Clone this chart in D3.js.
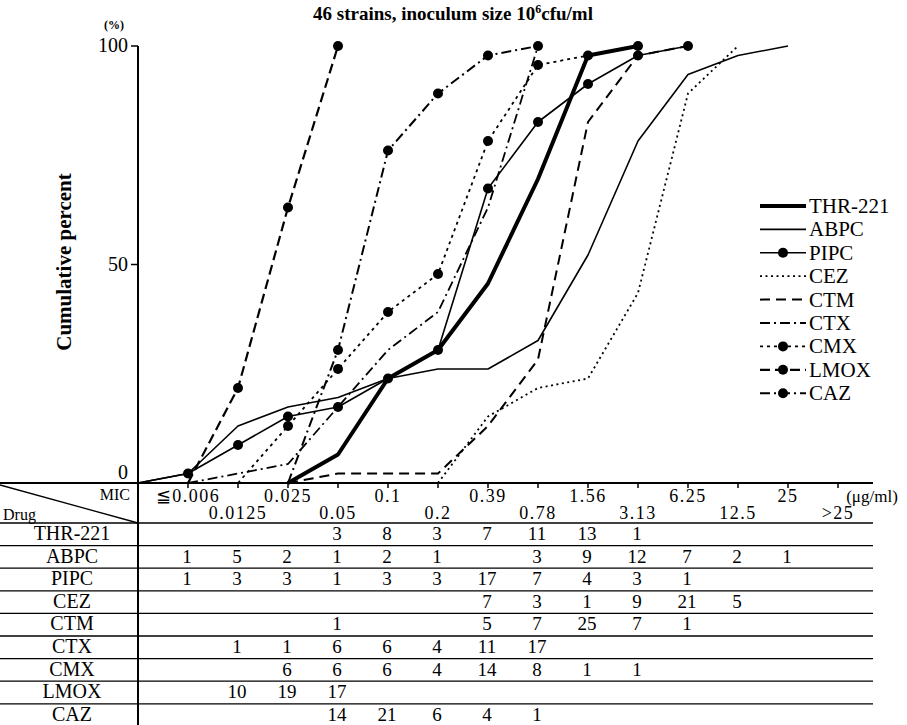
<!DOCTYPE html>
<html>
<head>
<meta charset="utf-8">
<script src="https://cdn.jsdelivr.net/npm/d3@7"></script>
<style>
  body { margin: 0; background: #fff; }
  text { font-family: "Liberation Serif", "DejaVu Serif", serif; fill: #000; }
</style>
</head>
<body>
<div id="chart"></div>
<script>
// MIC categories (ug/ml)
const mics = ["≦0.006", "0.0125", "0.025", "0.05", "0.1", "0.2", "0.39", "0.78", "1.56", "3.13", "6.25", "12.5", "25", ">25"];
const drugs = ["THR-221", "ABPC", "PIPC", "CEZ", "CTM", "CTX", "CMX", "LMOX", "CAZ"];

// number of strains per MIC (blank = null)
const thr221 = [null, null, null, 3, 8, 3, 7, 11, 13, 1, null, null, null, null];
const abpc   = [1, 5, 2, 1, 2, 1, null, 3, 9, 12, 7, 2, 1, null];
const pipc   = [1, 3, 3, 1, 3, 3, 17, 7, 4, 3, 1, null, null, null];
const cez    = [null, null, null, null, null, null, 7, 3, 1, 9, 21, 5, null, null];
const ctm    = [null, null, null, 1, null, null, 5, 7, 25, 7, 1, null, null, null];
const ctx    = [null, 1, 1, 6, 6, 4, 11, 17, null, null, null, null, null, null];
const cmx    = [null, null, 6, 6, 6, 4, 14, 8, 1, 1, null, null, null, null];
const lmox   = [null, 10, 19, 17, null, null, null, null, null, null, null, null, null, null];
const caz    = [null, null, null, 14, 21, 6, 4, 1, null, null, null, null, null, null];

const counts = [thr221, abpc, pipc, cez, ctm, ctx, cmx, lmox, caz];
const yTicks = [0, 50, 100];
const total = 46;

// line styles per drug
const styles = {
  "THR-221": { w: 4,   dash: null,       dot: false },
  "ABPC":    { w: 1.6, dash: null,       dot: false },
  "PIPC":    { w: 1.6, dash: null,       dot: true },
  "CEZ":     { w: 1.8, dash: "2,3.5",    dot: false },
  "CTM":     { w: 2,   dash: "10,6",     dot: false },
  "CTX":     { w: 1.8, dash: "10,4,2,4", dot: false },
  "CMX":     { w: 1.8, dash: "3,4",      dot: true },
  "LMOX":    { w: 2.2, dash: "10,5",     dot: true },
  "CAZ":     { w: 2,   dash: "10,4,2,4", dot: true }
};

const width = 907;
const height = 725;

const svg = d3.select('#chart')
  .append('svg')
  .attr('width', width)
  .attr('height', height);

const x = d3.scaleLinear().domain([-1, 13]).range([138, 838]);
const y = d3.scaleLinear().domain([0, 100]).range([483, 46]);

// cumulative series
const series = drugs.map((name, k) => {
  const c = counts[k];
  const first = c.findIndex(v => v != null && v > 0);
  const pts = [{ i: first - 1, p: 0, start: true }];
  let sum = 0;
  for (let i = first; i < c.length; i++) {
    sum += c[i] || 0;
    pts.push({ i: i, p: sum / total * 100 });
    if (sum >= total) break;
  }
  return { name, pts };
});

// title
const title = svg.append('text')
  .attr('x', 453).attr('y', 20)
  .attr('text-anchor', 'middle')
  .style('font-size', '19px').style('font-weight', 'bold');
title.append('tspan').text('46 strains, inoculum size 10');
title.append('tspan').attr('dy', -7).style('font-size', '12px').text('6');
title.append('tspan').attr('dy', 7).text('cfu/ml');

// y axis
svg.append('line')
  .attr('x1', 138).attr('x2', 138)
  .attr('y1', y(100)).attr('y2', height)
  .attr('stroke', '#000').attr('stroke-width', 2);

svg.selectAll('.ytick')
  .data(yTicks)
  .join('line')
  .attr('x1', 131).attr('x2', 138)
  .attr('y1', d => y(d)).attr('y2', d => y(d))
  .attr('stroke', '#000').attr('stroke-width', 1.5);

svg.selectAll('.ylab')
  .data(yTicks)
  .join('text')
  .attr('x', 128)
  .attr('y', d => d === 0 ? y(d) - 4 : y(d) + 6)
  .attr('text-anchor', 'end')
  .style('font-size', '20px')
  .text(d => d);

svg.append('text')
  .attr('x', 114).attr('y', 29)
  .attr('text-anchor', 'middle')
  .style('font-size', '12px').style('font-weight', 'bold')
  .text('(%)');

svg.append('text')
  .attr('transform', 'translate(71,262) rotate(-90)')
  .attr('text-anchor', 'middle')
  .style('font-size', '21px').style('font-weight', 'bold')
  .text('Cumulative percent');

// x axis / table top
svg.append('line')
  .attr('x1', 0).attr('x2', 873)
  .attr('y1', 483).attr('y2', 483)
  .attr('stroke', '#000').attr('stroke-width', 2);

svg.selectAll('.xtick')
  .data(mics)
  .join('line')
  .attr('x1', (d, i) => x(i)).attr('x2', (d, i) => x(i))
  .attr('y1', 483).attr('y2', 488)
  .attr('stroke', '#000').attr('stroke-width', 1.5);

svg.selectAll('.xlab')
  .data(mics)
  .join('text')
  .attr('x', (d, i) => x(i))
  .attr('y', (d, i) => i % 2 === 0 ? 502 : 519)
  .attr('text-anchor', 'middle')
  .style('font-size', '18px')
  .style('letter-spacing', '1.5px')
  .text(d => d);

svg.append('text')
  .attr('x', 872).attr('y', 502)
  .attr('text-anchor', 'middle')
  .style('font-size', '17px')
  .text('(μg/ml)');

// header cell
svg.append('line')
  .attr('x1', 0).attr('y1', 485).attr('x2', 138).attr('y2', 523)
  .attr('stroke', '#000').attr('stroke-width', 1.3);
svg.append('text')
  .attr('x', 130).attr('y', 500)
  .attr('text-anchor', 'end')
  .style('font-size', '16px')
  .text('MIC');
svg.append('text')
  .attr('x', 3).attr('y', 520)
  .style('font-size', '16px')
  .text('Drug');

// table rows
const rowTop = 523;
const rowH = 22.6;

svg.selectAll('.hline')
  .data(d3.range(drugs.length + 1))
  .join('line')
  .attr('x1', 0).attr('x2', 873)
  .attr('y1', d => rowTop + d * rowH).attr('y2', d => rowTop + d * rowH)
  .attr('stroke', '#000').attr('stroke-width', 1.3);

svg.selectAll('.dname')
  .data(drugs)
  .join('text')
  .attr('x', 72)
  .attr('y', (d, k) => rowTop + k * rowH + 17)
  .attr('text-anchor', 'middle')
  .style('font-size', '20px')
  .text(d => d);

drugs.forEach((name, k) => {
  svg.append('g')
    .selectAll('text')
    .data(counts[k].map((v, i) => ({ v, i })).filter(d => d.v != null))
    .join('text')
    .attr('x', d => x(d.i) - 1)
    .attr('y', rowTop + k * rowH + 17)
    .attr('text-anchor', 'middle')
    .style('font-size', '19px')
    .text(d => d.v);
});

// curves
const line = d3.line()
  .x(d => x(d.i))
  .y(d => y(d.p));

const plot = svg.append('g');

series.forEach(s => {
  const st = styles[s.name];
  plot.append('path')
    .datum(s.pts)
    .attr('d', line)
    .attr('fill', 'none')
    .attr('stroke', '#000')
    .attr('stroke-width', st.w)
    .attr('stroke-linejoin', 'round')
    .attr('stroke-dasharray', st.dash);
  if (st.dot) {
    plot.selectAll(null)
      .data(s.pts.filter(d => !d.start))
      .join('circle')
      .attr('cx', d => x(d.i))
      .attr('cy', d => y(d.p))
      .attr('r', 5)
      .attr('fill', '#000');
  }
});

// legend
const legend = svg.append('g');
drugs.forEach((name, k) => {
  const st = styles[name];
  const ly = 206 + k * 23.4;
  legend.append('line')
    .attr('x1', 760).attr('x2', 806)
    .attr('y1', ly).attr('y2', ly)
    .attr('stroke', '#000')
    .attr('stroke-width', st.w)
    .attr('stroke-dasharray', st.dash);
  if (st.dot) {
    legend.append('circle')
      .attr('cx', 783).attr('cy', ly).attr('r', 5).attr('fill', '#000');
  }
  legend.append('text')
    .attr('x', 809).attr('y', ly + 7)
    .style('font-size', '21px')
    .text(name);
});
</script>
</body>
</html>
